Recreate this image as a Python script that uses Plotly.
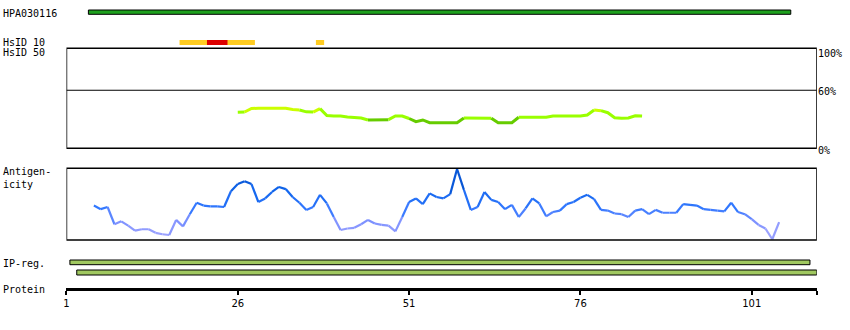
import plotly.graph_objects as go

W, H = 850, 330

# ---------------- data ----------------
protein_length = 110.5
tick_vals = [1, 26, 51, 76, 101]
tick_text = ["1", "26", "51", "76", "101"]

hpa_name = "HPA030116"
hpa_range = [4.2, 106.7]

hsid10_orange = [[17.5, 28.5], [37.4, 38.6]]
hsid10_red = [[21.5, 24.5]]

hsid50_res = list(range(26, 86))
hsid50_pct = [37.2, 37.5, 41.2, 41.4, 41.4, 41.4, 41.4, 41.4, 40.1, 39.6,
              37.7, 37.5, 41.0, 33.9, 33.4, 33.4, 32.4, 32.1, 31.3, 29.3,
              29.3, 29.3, 29.6, 33.4, 33.4, 30.8, 27.5, 29.3, 26.5, 26.5,
              26.5, 26.5, 26.5, 31.3, 31.2, 31.2, 31.2, 31.2, 26.5, 26.5,
              26.5, 32.1, 32.1, 32.1, 32.1, 32.1, 33.4, 33.4, 33.4, 33.4,
              33.4, 34.4, 39.6, 38.9, 36.8, 31.6, 31.0, 31.3, 33.7, 33.4]

antig_res = list(range(5, 106))
antig_val = [0.48, 0.43, 0.46, 0.22, 0.26, 0.20, 0.13, 0.15, 0.15, 0.10,
             0.08, 0.07, 0.28, 0.19, 0.36, 0.52, 0.48, 0.47, 0.47, 0.46,
             0.68, 0.78, 0.82, 0.78, 0.53, 0.58, 0.67, 0.74, 0.71, 0.60,
             0.52, 0.42, 0.46, 0.63, 0.51, 0.32, 0.14, 0.16, 0.17, 0.22,
             0.28, 0.23, 0.21, 0.20, 0.12, 0.32, 0.53, 0.58, 0.50, 0.65,
             0.60, 0.58, 0.64, 0.99, 0.70, 0.42, 0.46, 0.67, 0.56, 0.53,
             0.43, 0.49, 0.32, 0.44, 0.58, 0.51, 0.33, 0.39, 0.41, 0.50,
             0.53, 0.59, 0.63, 0.57, 0.42, 0.41, 0.37, 0.36, 0.32, 0.41,
             0.43, 0.36, 0.42, 0.38, 0.38, 0.38, 0.50, 0.49, 0.48, 0.43,
             0.42, 0.41, 0.40, 0.52, 0.39, 0.36, 0.29, 0.21, 0.16, 0.01,
             0.25]

ip_regions = [[1.5, 109.5], [2.5, 110.5]]

hsid_ref_pct = 60
hsid_labels = ["100%", "60%", "0%"]

# ---------------- helpers ----------------
def py(p):
    return 1 - p / H

def hsid_color(v):
    if v >= 39:
        return "#ccff00"
    if v >= 30:
        return "#99ff00"
    return "#66cc00"

def lerp(c1, c2, t):
    return tuple(int(round(a + (b - a) * t)) for a, b in zip(c1, c2))

stops = [(0.0, (170, 170, 255)), (0.25, (125, 145, 255)), (0.45, (50, 120, 255)),
         (0.7, (15, 100, 235)), (1.0, (0, 70, 190))]

def antig_color(v):
    for (t0, c0), (t1, c1) in zip(stops[:-1], stops[1:]):
        if v <= t1:
            return "rgb(%d,%d,%d)" % lerp(c0, c1, (v - t0) / (t1 - t0))
    return "rgb(%d,%d,%d)" % stops[-1][1]

fig = go.Figure()

# HsID 50 line, coloured by value
runs = []
for i in range(len(hsid50_res) - 1):
    c = hsid_color((hsid50_pct[i] + hsid50_pct[i + 1]) / 2)
    if runs and runs[-1][0] == c and runs[-1][1][-1] == i:
        runs[-1][1].append(i + 1)
    else:
        runs.append([c, [i, i + 1]])
for c, idx in runs:
    fig.add_trace(go.Scatter(x=[hsid50_res[k] for k in idx], y=[hsid50_pct[k] for k in idx],
                             mode="lines", line=dict(color=c, width=3),
                             xaxis="x", yaxis="y", showlegend=False, hoverinfo="skip"))

# Antigenicity line, gradient by value
for i in range(len(antig_res) - 1):
    c = antig_color((antig_val[i] + antig_val[i + 1]) / 2)
    fig.add_trace(go.Scatter(x=antig_res[i:i + 2], y=antig_val[i:i + 2],
                             mode="lines", line=dict(color=c, width=2.2),
                             xaxis="x", yaxis="y2", showlegend=False, hoverinfo="skip"))

shapes = []
# HPA bar
shapes.append(dict(type="rect", xref="x", yref="paper", x0=hpa_range[0], x1=hpa_range[1],
                   y0=py(14.3), y1=py(10), fillcolor="#1ea01e", line=dict(color="black", width=1)))
# HsID 10 bars
for a, b in hsid10_orange:
    shapes.append(dict(type="rect", xref="x", yref="paper", x0=a, x1=b, y0=py(45), y1=py(40),
                       fillcolor="#ffcc22", line=dict(width=0)))
for a, b in hsid10_red:
    shapes.append(dict(type="rect", xref="x", yref="paper", x0=a, x1=b, y0=py(45), y1=py(40),
                       fillcolor="#dd0000", line=dict(width=0)))
# panel boxes
for yr in ["y domain", "y2 domain"]:
    shapes.append(dict(type="rect", xref="x", yref=yr, x0=1, x1=protein_length, y0=0, y1=1,
                       line=dict(color="black", width=1.5), fillcolor="rgba(0,0,0,0)"))
# 60% line
shapes.append(dict(type="line", xref="x", yref="y", x0=1, x1=protein_length,
                   y0=hsid_ref_pct, y1=hsid_ref_pct, line=dict(color="black", width=1.2)))
# IP-reg bars
for (a, b), (top, bot) in zip(ip_regions, [(260, 264.7), (270, 275)]):
    shapes.append(dict(type="rect", xref="x", yref="paper", x0=a, x1=b, y0=py(bot), y1=py(top),
                       fillcolor="#a0c860", line=dict(color="black", width=1)))

annos = []
font = dict(family="DejaVu Sans Mono", size=10, color="black")
for txt, ypx in [(hpa_name, 13), ("HsID 10", 42.3), ("HsID 50", 52.3),
                 ("Antigen-<br>icity", 177.5), ("IP-reg.", 263), ("Protein", 289)]:
    annos.append(dict(text=txt, xref="paper", yref="paper", x=2 / W, y=py(ypx), xshift=-4,
                      xanchor="left", yanchor="middle", align="left", showarrow=False, font=font))
for txt, ypx in zip(hsid_labels, [53, 91.5, 150]):
    annos.append(dict(text=txt, xref="paper", yref="paper", x=819 / W, y=py(ypx), xshift=-3,
                      xanchor="left", yanchor="middle", showarrow=False, font=font))

x0px, x1px = 63.7, 816.7
fig.update_layout(
    width=W, height=H, margin=dict(l=0, r=0, t=0, b=0),
    paper_bgcolor="white", plot_bgcolor="white",
    xaxis=dict(domain=[x0px / W, x1px / W], range=[1, protein_length], anchor="free",
               position=py(289.3), showline=True, linecolor="black", linewidth=3,
               ticks="outside", ticklen=4, tickwidth=2, tickcolor="black",
               tickvals=tick_vals + [protein_length], ticktext=tick_text + [""],
               tickfont=dict(family="DejaVu Sans", size=10, color="black"),
               showgrid=False, zeroline=False, fixedrange=True),
    yaxis=dict(domain=[py(148.3), py(48.3)], range=[0, 103.4], visible=False,
               showgrid=False, zeroline=False),
    yaxis2=dict(domain=[py(240), py(168.3)], range=[0, 1], visible=False,
                showgrid=False, zeroline=False),
    shapes=shapes, annotations=annos,
)
fig.write_html("out.html")
